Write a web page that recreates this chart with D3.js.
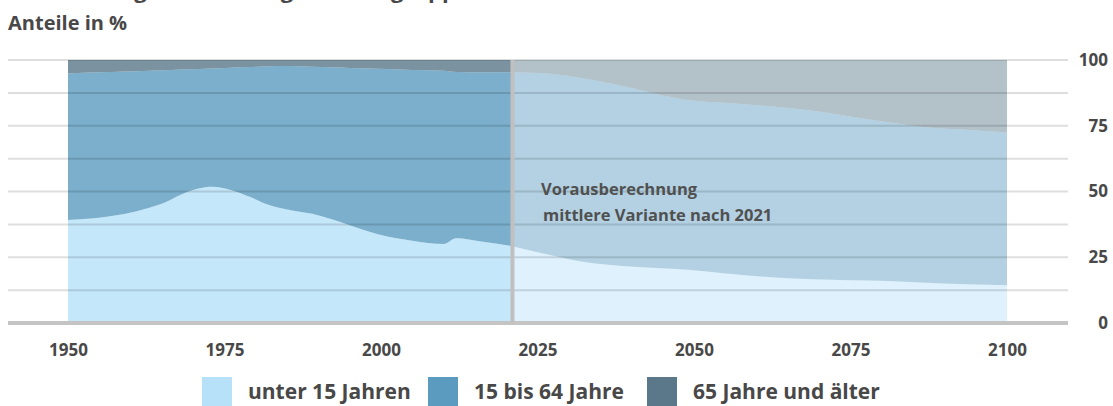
<!DOCTYPE html>
<html>
<head>
<meta charset="utf-8">
<script src="https://cdn.jsdelivr.net/npm/d3@7"></script>
<style>
  body { margin: 0; background: #fff; }
  text { font-family: "Open Sans", "Noto Sans", sans-serif; fill: #484848; }
</style>
</head>
<body>
<script>
// Anteile der Altersgruppen, bis 2021 beobachtet, danach Vorausberechnung
var histYears = [1950, 1955, 1959, 1963, 1965, 1968, 1971, 1973, 1976, 1979, 1982, 1985, 1989, 1992, 1995, 1998, 2001, 2005, 2010, 2012, 2016, 2021];
var histUnder15 = [39.2, 40.0, 41.4, 43.8, 45.3, 48.8, 51.2, 51.8, 50.6, 48.0, 45.0, 43.2, 41.5, 39.5, 37.2, 34.8, 32.9, 31.3, 30.0, 32.2, 31.0, 29.2];
var hist15to64 = [55.7, 55.3, 54.2, 52.1, 50.8, 47.6, 45.4, 45.0, 46.5, 49.3, 52.6, 54.5, 55.9, 57.7, 59.8, 62.0, 63.7, 64.9, 65.9, 63.2, 64.3, 66.1];
var hist65plus = [5.1, 4.7, 4.4, 4.1, 3.9, 3.6, 3.4, 3.2, 2.9, 2.7, 2.4, 2.3, 2.6, 2.8, 3.0, 3.2, 3.4, 3.8, 4.1, 4.6, 4.7, 4.7];

var projYears = [2021, 2027, 2033, 2038, 2044, 2049, 2056, 2063, 2069, 2075, 2081, 2088, 2094, 2100];
var projUnder15 = [29.2, 25.9, 23.0, 21.8, 20.9, 20.2, 18.6, 17.3, 16.6, 16.3, 16.0, 15.2, 14.7, 14.4];
var proj15to64 = [66.1, 68.9, 69.8, 68.6, 66.2, 64.6, 65.0, 64.9, 64.1, 62.2, 60.3, 59.0, 58.7, 58.0];
var proj65plus = [4.7, 5.2, 7.2, 9.6, 12.9, 15.2, 16.4, 17.8, 19.3, 21.5, 23.7, 25.8, 26.6, 27.6];

var groupNames = ["unter 15 Jahren", "15 bis 64 Jahre", "65 Jahre und älter"];
var xTicks = [1950, 1975, 2000, 2025, 2050, 2075, 2100];
var yTicks = [0, 25, 50, 75, 100];
var splitYear = 2021;

var colors = ["#b7e1f9", "#5a9bbf", "#5a7889"];

var width = 1113, height = 406;

var svg = d3.select("body").append("svg")
  .attr("width", width)
  .attr("height", height);

// scales
var x = d3.scaleLinear().domain([1950, 2100]).range([68, 1007]);
var y = d3.scaleLinear().domain([0, 100]).range([323, 60]);

// title (oben abgeschnitten) and unit
svg.append("text")
  .attr("x", 8).attr("y", -2)
  .style("font-size", "22px").style("font-weight", "700")
  .text("Bevölkerungsentwicklung in Altersgruppen");

svg.append("text")
  .attr("x", 8).attr("y", 30)
  .style("font-size", "20px").style("font-weight", "700")
  .text("Anteile in %");

// build tables for the stack
function makeRows(years, a, b, c) {
  return years.map(function (yr, i) {
    return { year: yr, k0: a[i], k1: b[i], k2: c[i] };
  });
}
var stack = d3.stack().keys(["k0", "k1", "k2"]);
var histSeries = stack(makeRows(histYears, histUnder15, hist15to64, hist65plus));
var projSeries = stack(makeRows(projYears, projUnder15, proj15to64, proj65plus));

var area = d3.area()
  .x(function (d) { return x(d.data.year); })
  .y0(function (d) { return y(d[0]); })
  .y1(function (d) { return y(d[1]); })
  .curve(d3.curveMonotoneX);

svg.append("g").selectAll("path")
  .data(histSeries)
  .enter().append("path")
  .attr("d", area)
  .attr("fill", function (d, i) { return colors[i]; })
  .attr("fill-opacity", 0.8);

svg.append("g").selectAll("path")
  .data(projSeries)
  .enter().append("path")
  .attr("d", area)
  .attr("fill", function (d, i) { return colors[i]; })
  .attr("fill-opacity", 0.46);

// gridlines every 12.5, drawn over the areas
svg.append("g").selectAll("line")
  .data(d3.range(12.5, 100.1, 12.5))
  .enter().append("line")
  .attr("x1", 8).attr("x2", 1068)
  .attr("y1", function (d) { return y(d); })
  .attr("y2", function (d) { return y(d); })
  .attr("stroke", "#000")
  .attr("stroke-opacity", 0.13)
  .attr("stroke-width", 2);

// baseline
svg.append("line")
  .attr("x1", 8).attr("x2", 1068)
  .attr("y1", y(0)).attr("y2", y(0))
  .attr("stroke", "#c4c4c4")
  .attr("stroke-width", 4);

// divider at 2021
svg.append("line")
  .attr("x1", x(splitYear)).attr("x2", x(splitYear))
  .attr("y1", y(100)).attr("y2", y(0))
  .attr("stroke", "#c0c0c0")
  .attr("stroke-width", 4);

// annotation
var note = svg.append("text")
  .style("font-size", "16.5px").style("font-weight", "700")
  .style("fill", "#505050");
note.append("tspan").attr("x", 541).attr("y", 195).text("Vorausberechnung");
note.append("tspan").attr("x", 543).attr("y", 221).text("mittlere Variante nach 2021");

// y axis on the right
var yAxis = svg.append("g")
  .attr("transform", "translate(1108,0)")
  .call(d3.axisLeft(y).tickValues(yTicks).tickSize(0).tickPadding(0));
yAxis.select(".domain").remove();
yAxis.selectAll("text")
  .style("font-size", "17px").style("font-weight", "700")
  .style("font-family", null);

// x axis
var xAxis = svg.append("g")
  .attr("transform", "translate(0," + y(0) + ")")
  .call(d3.axisBottom(x).tickValues(xTicks).tickFormat(d3.format("d")).tickSize(0).tickPadding(21));
xAxis.select(".domain").remove();
xAxis.selectAll("text")
  .style("font-size", "17px").style("font-weight", "700")
  .style("font-family", null);

// legend
var legendX = [202, 428, 647];
var legend = svg.append("g").selectAll("g")
  .data(groupNames)
  .enter().append("g")
  .attr("transform", function (d, i) { return "translate(" + legendX[i] + ",377)"; });
legend.append("rect")
  .attr("width", 30).attr("height", 30)
  .attr("fill", function (d, i) { return colors[i]; });
legend.append("text")
  .attr("x", 46).attr("y", 22)
  .style("font-size", "21px").style("font-weight", "700")
  .text(function (d) { return d; });
</script>
</body>
</html>
